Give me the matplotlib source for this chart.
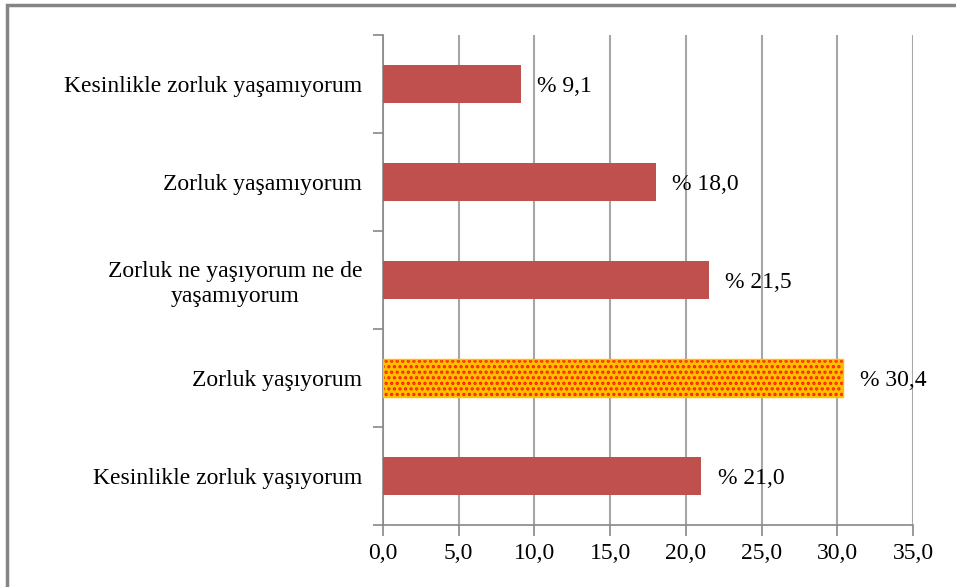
import numpy as np
import matplotlib.pyplot as plt
from matplotlib.patches import Rectangle

plt.rcParams['font.family'] = ['Liberation Serif', 'DejaVu Serif']
plt.rcParams['hatch.linewidth'] = 1.6

# data, top to bottom as in the chart
categories = ['Kesinlikle zorluk yaşamıyorum',
              'Zorluk yaşamıyorum',
              'Zorluk ne yaşıyorum ne de\nyaşamıyorum',
              'Zorluk yaşıyorum',
              'Kesinlikle zorluk yaşıyorum']
values = [9.1, 18.0, 21.5, 30.4, 21.0]
highlight = 'Zorluk yaşıyorum'
xticks = [0, 5, 10, 15, 20, 25, 30, 35]

fs = 17
fig = plt.figure(figsize=(9.56, 5.87), dpi=100)
ax = fig.add_axes([0.4006, 0.1056, 0.5544, 0.8348])

y_pos = np.arange(len(categories))[::-1]
red = '#C0504D'
for y, v, c in zip(y_pos, values, categories):
    if c == highlight:
        ax.barh(y, v, height=0.39, color='#FFC000', hatch='...',
                edgecolor='#FF2000', linewidth=0, zorder=3)
        ax.barh(y, v, height=0.39, fill=False, edgecolor='#FFC000',
                linewidth=1, zorder=4)
    else:
        ax.barh(y, v, height=0.39, color=red, zorder=3)
    txt = '% ' + ('%.1f' % v).replace('.', ',')
    ax.annotate(txt, (v, y), xytext=(12, 0), textcoords='offset points',
                va='center_baseline', ha='left', fontsize=fs)

ax.set_xlim(0, 35)
ax.set_ylim(-0.5, len(categories) - 0.5)
ax.set_xticks(xticks)
ax.set_xticklabels([('%.1f' % t).replace('.', ',') for t in xticks], fontsize=fs)
ax.set_yticks(y_pos)
ax.set_yticklabels(categories, fontsize=fs)
for lab in ax.get_yticklabels():
    lab.set_multialignment('center')
ax.set_yticks(np.arange(-0.5, len(categories)), minor=True)
ax.tick_params(axis='y', which='major', length=0, pad=15)
ax.tick_params(axis='y', which='minor', length=7, color='#888888', width=1.2)
ax.tick_params(axis='x', length=8, color='#888888', width=1.2, pad=5)

ax.grid(axis='x', color='#A6A6A6', linewidth=1.5, zorder=0)
ax.set_axisbelow(True)
for s in ['top', 'right']:
    ax.spines[s].set_visible(False)
for s in ['left', 'bottom']:
    ax.spines[s].set_color('#888888')
    ax.spines[s].set_linewidth(1.2)

# outer frame, only top and left visible in the picture
fig.patches.append(Rectangle((7 / 956, -0.05), 1.1, 1 - 5 / 587 + 0.05,
                             transform=fig.transFigure, fill=False,
                             edgecolor='#858585', linewidth=2.5))

fig.savefig('out.png', dpi=100)
